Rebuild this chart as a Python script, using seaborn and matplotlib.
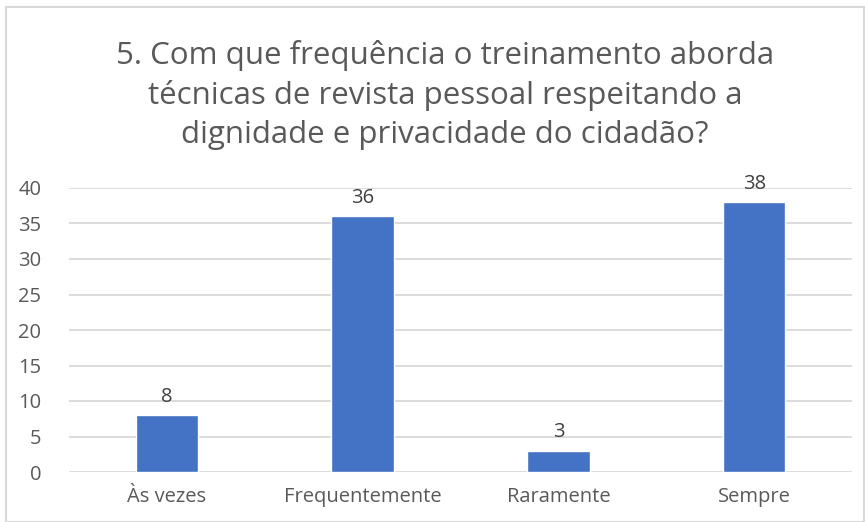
import matplotlib
matplotlib.use("Agg")
import matplotlib.pyplot as plt
import seaborn as sns
import pandas as pd
from matplotlib.patches import Rectangle

categories = ["Às vezes", "Frequentemente", "Raramente", "Sempre"]
values = [8, 36, 3, 38]
yticks = [0, 5, 10, 15, 20, 25, 30, 35, 40]
title = ("5. Com que frequência o treinamento aborda\n"
         "técnicas de revista pessoal respeitando a\n"
         "dignidade e privacidade do cidadão?")

sns.set_theme(style="white")
plt.rcParams['font.family'] = ['Open Sans', 'DejaVu Sans']

df = pd.DataFrame({"cat": categories, "val": values})

fig = plt.figure(figsize=(8.65, 5.22), dpi=100)
ax = fig.add_axes([69/865, 50/522, 783/865, (472-188)/522])

sns.barplot(data=df, x="cat", y="val", color="#4472C4", width=0.32,
            saturation=1, ax=ax, zorder=3)

ax.set_ylim(0, 40)
ax.set_yticks(yticks)
ax.set_xlim(-0.5, 3.5)
ax.grid(axis="y", color="#D9D9D9", linewidth=1.3, zorder=0)
for s in ax.spines.values():
    s.set_visible(False)
ax.set_xlabel("")
ax.set_ylabel("")
ax.tick_params(axis="both", length=0, labelsize=14.5, colors="#595959")
ax.tick_params(axis="x", pad=11)
ax.tick_params(axis="y", pad=20)

for c in ax.containers:
    ax.bar_label(c, labels=[str(v) for v in values], padding=6,
                 fontsize=14.5, color="#404040")

fig.text(445/865, 1 - 95/522, title, ha="center", va="center",
         fontsize=22.5, color="#595959", linespacing=1.38)

fig.patches.append(Rectangle((6/865, 0), 1 - 6/865 - 0.001, 1 - 7/522,
                             transform=fig.transFigure, fill=False,
                             edgecolor="#D9D9D9", linewidth=1.5))

fig.savefig("out.png", dpi=100, facecolor="white")
